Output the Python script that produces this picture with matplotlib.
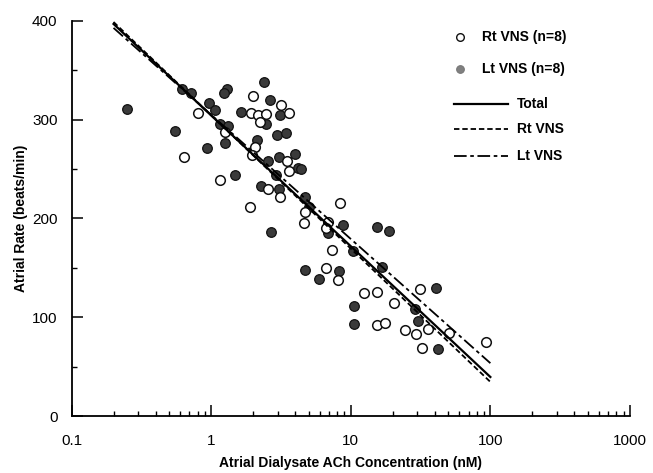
import matplotlib
matplotlib.use("Agg")
import matplotlib.pyplot as plt
import numpy as np
from matplotlib.lines import Line2D
from matplotlib.ticker import FixedLocator, LogLocator, NullFormatter

plt.rcParams['font.family'] = ['Liberation Sans', 'DejaVu Sans']

# ---- data ----
rt_x = [0.81, 0.64, 1.26, 2.0, 3.15, 3.64, 1.94, 2.18, 2.47, 2.24, 2.07, 1.96,
        3.51, 3.63, 1.16, 2.57, 3.11, 1.9, 4.7, 4.63, 6.9, 6.6, 8.35, 7.37,
        6.63, 8.14, 12.5, 15.3, 31.1, 20.4, 15.5, 17.6, 24.3, 29.2, 35.7, 50.4,
        32.4, 93.0]
rt_y = [307, 262, 288, 324, 315, 307, 307, 305, 306, 298, 272, 264,
        258, 248, 239, 230, 222, 212, 207, 195, 196, 190, 216, 168,
        150, 138, 125, 126, 129, 114, 92, 94, 87, 83, 88, 84,
        69, 75]

lt_x = [0.25, 0.554, 0.62, 0.72, 0.96, 0.93, 1.3, 1.24, 2.4, 2.62, 3.11, 1.06,
        1.63, 2.46, 1.16, 1.33, 2.98, 3.44, 1.26, 2.14, 3.08, 3.99, 2.57, 4.17,
        4.37, 2.91, 1.48, 2.28, 3.04, 4.7, 2.68, 5.04, 6.9, 4.72, 5.9, 8.25,
        8.73, 15.4, 18.7, 10.3, 16.8, 40.5, 10.6, 28.7, 30.4, 42.2, 10.5]
lt_y = [311, 289, 331, 327, 317, 271, 331, 327, 338, 320, 305, 310,
        308, 296, 296, 294, 285, 287, 276, 279, 262, 265, 258, 251,
        250, 244, 244, 233, 230, 222, 186, 212, 185, 148, 139, 147,
        193, 191, 187, 167, 151, 130, 111, 108, 96, 68, 93]

# regression lines: values at the two ends of the fitted range
fit_x = [0.2, 100]
total_fit = [397, 39.5]
rt_fit = [399, 34.5]
lt_fit = [393, 53.5]

x_ticks = [0.1, 1, 10, 100, 1000]
x_tick_labels = ['0.1', '1', '10', '100', '1000']
y_ticks = [0, 100, 200, 300, 400]

# ---- figure ----
W, H = 653, 473
fig = plt.figure(figsize=(W / 100, H / 100), dpi=100)
ax = fig.add_axes([71.5 / W, 1 - 416 / H, (630 - 71.5) / W, (416 - 21) / H])

ax.scatter(lt_x, lt_y, s=48, facecolor='#3a3a3a', edgecolor='#111111',
           linewidths=0.9, zorder=3)
ax.scatter(rt_x, rt_y, s=48, facecolor='white', edgecolor='#111111',
           linewidths=1.1, zorder=3)

ax.plot(fit_x, total_fit, color='black', lw=1.6, zorder=4)
ax.plot(fit_x, rt_fit, color='black', lw=1.3, ls=(0, (3, 1.6)), zorder=4)
ax.plot(fit_x, lt_fit, color='black', lw=1.3, ls=(0, (7, 2, 2, 2)), zorder=4)

ax.set_xscale('log')
ax.set_xlim(0.1, 1000)
ax.set_ylim(0, 400)
ax.xaxis.set_major_locator(FixedLocator(x_ticks))
ax.set_xticklabels(x_tick_labels)
ax.xaxis.set_minor_locator(LogLocator(base=10, subs=np.arange(2, 10)))
ax.xaxis.set_minor_formatter(NullFormatter())
ax.set_yticks(y_ticks)
ax.yaxis.set_minor_locator(FixedLocator([50, 150, 250, 350]))

for s in ['top', 'right']:
    ax.spines[s].set_visible(False)
for s in ['left', 'bottom']:
    ax.spines[s].set_linewidth(1.3)

ax.tick_params(which='major', direction='in', length=8, width=1.1,
               labelsize=11)
ax.tick_params(which='minor', direction='in', length=3.5, width=1.0)
ax.tick_params(axis='x', which='major', pad=13)
ax.tick_params(axis='y', which='major', pad=10)

ax.set_xlabel('Atrial Dialysate ACh Concentration (nM)', fontsize=10,
              fontweight='bold', labelpad=6)
ax.set_ylabel('Atrial Rate (beats/min)', fontsize=10, fontweight='bold',
              labelpad=3)

# ---- legend (manual) ----
def fx(px):
    return px / W

def fy(py):
    return 1 - py / H

fig.add_artist(Line2D([fx(460)], [fy(37)], marker='o', ms=5.5, mfc='white',
                      mec='#111111', mew=1.0, ls='none'))
fig.text(fx(482), fy(37), 'Rt VNS (n=8)', fontsize=10, fontweight='bold',
         va='center', ha='left')
fig.add_artist(Line2D([fx(460)], [fy(69)], marker='o', ms=5.5, mfc='#808080',
                      mec='#777777', mew=0.8, ls='none'))
fig.text(fx(482), fy(69), 'Lt VNS (n=8)', fontsize=10, fontweight='bold',
         va='center', ha='left')

legend_lines = [('Total', '-', 1.6, 104),
                ('Rt VNS', (0, (3, 1.6)), 1.3, 129),
                ('Lt VNS', (0, (7, 2, 2, 2)), 1.3, 156)]
for label, ls, lw, py in legend_lines:
    fig.add_artist(Line2D([fx(454), fx(508)], [fy(py), fy(py)], color='black',
                          lw=lw, ls=ls))
    fig.text(fx(517), fy(py), label, fontsize=10, fontweight='bold',
             va='center', ha='left')

fig.savefig('out.png', dpi=100)
